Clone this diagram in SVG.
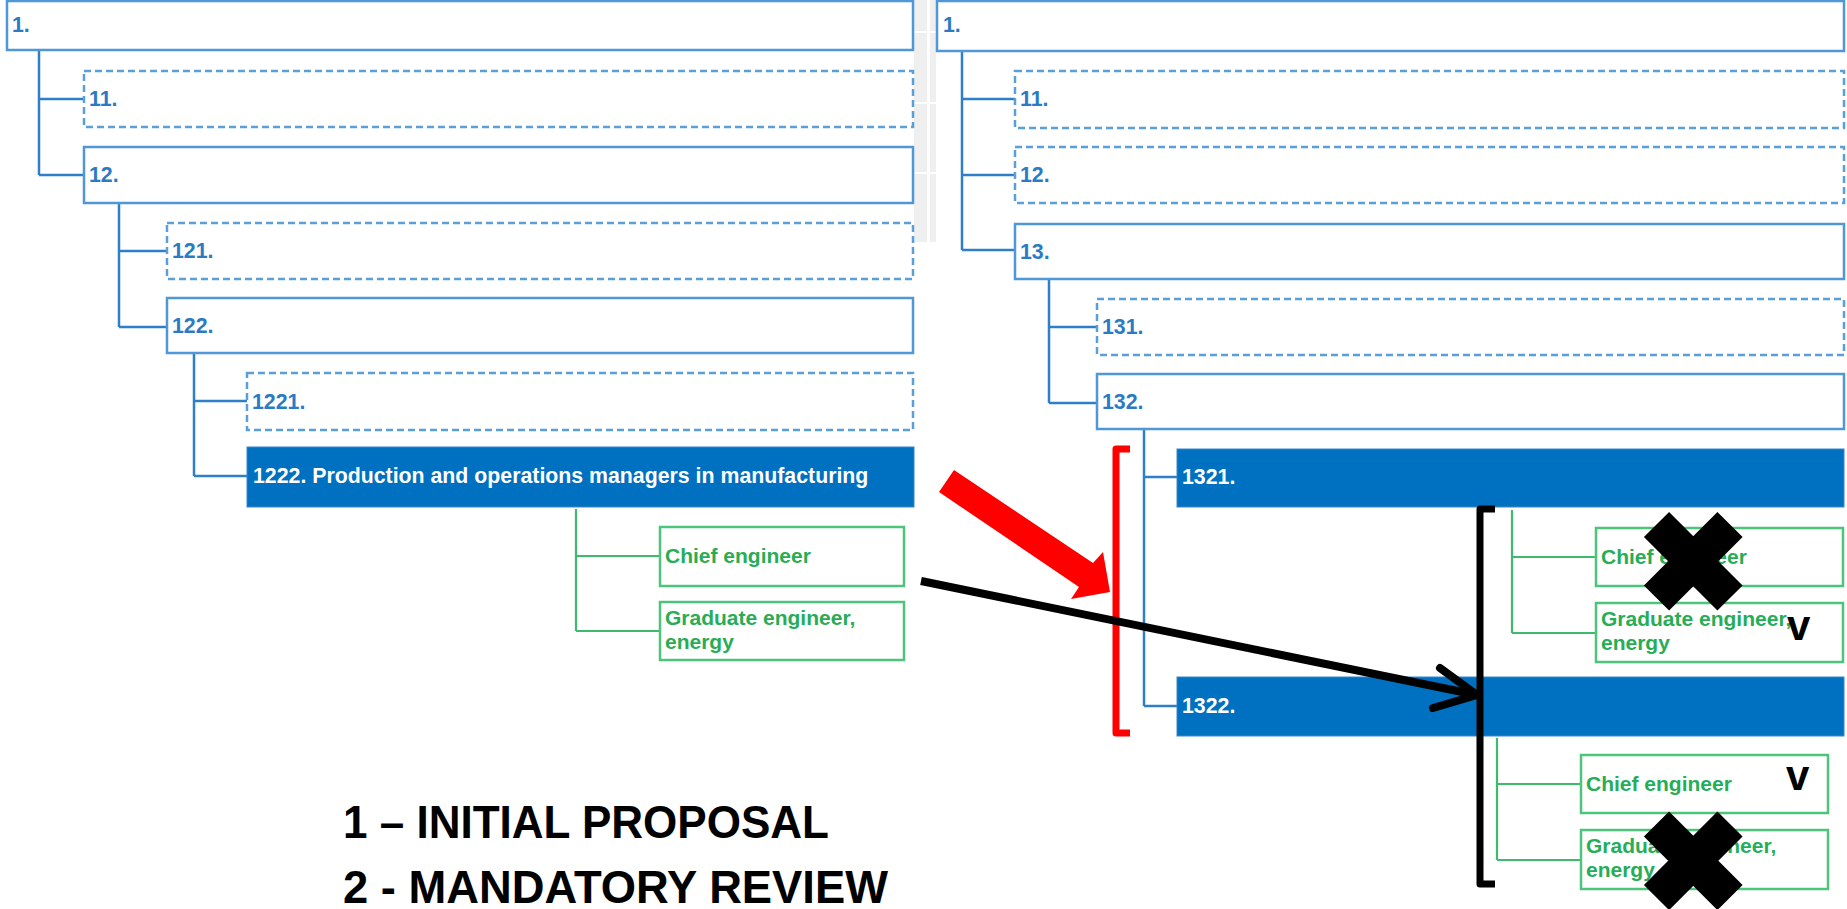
<svg xmlns="http://www.w3.org/2000/svg" width="1847" height="909" viewBox="0 0 1847 909">
<style>
.bx{fill:#fff;stroke:#4f97d6;stroke-width:2.5}
.dx{fill:#fff;stroke:#5a9fd8;stroke-width:2.5;stroke-dasharray:7 4}
.fx{fill:#0070c0;stroke:#3b86cc;stroke-width:1}
.gx{fill:#fff;stroke:#4cc47a;stroke-width:2.5}
.bl{font-family:"Liberation Sans",Arial,sans-serif;font-weight:bold;font-size:21.3px;fill:#2a7ac4}
.wl{font-family:"Liberation Sans",Arial,sans-serif;font-weight:bold;font-size:21.3px;fill:#ffffff}
.gl{font-family:"Liberation Sans",Arial,sans-serif;font-weight:bold;font-size:21px;fill:#27ad56}
.cb{fill:none;stroke:#2f7fc8;stroke-width:2.5}
.cg{fill:none;stroke:#3dbb6c;stroke-width:2.2}
.big{font-family:"Liberation Sans",Arial,sans-serif;font-weight:bold;font-size:46px;fill:#000}
.vv{font-family:"Liberation Sans",Arial,sans-serif;font-weight:bold;font-size:42px;fill:#000}
</style>
<rect width="1847" height="909" fill="#fff"/>
<g id="bg-artifact">
<rect x="914" y="0" width="22" height="242" fill="#efefef"/>
<rect x="927" y="0" width="3" height="242" fill="#fff"/>
<rect x="914" y="31" width="22" height="2" fill="#fff"/>
<rect x="914" y="102" width="22" height="2" fill="#fff"/>
<rect x="914" y="172" width="22" height="2" fill="#fff"/>
</g>
<g id="connectors">
<path class="cb" d="M39,50 V175 M39,99 H84 M39,175 H84"/>
<path class="cb" d="M119,203 V327 M119,251 H167 M119,327 H167"/>
<path class="cb" d="M194,353 V476 M194,401 H247 M194,476 H247"/>
<path class="cg" d="M576,509 V631 M576,556 H660 M576,631 H660"/>
<path class="cb" d="M962,51 V250 M962,99 H1015 M962,175 H1015 M962,250 H1015"/>
<path class="cb" d="M1049,279 V403 M1049,327 H1097 M1049,403 H1097"/>
<path class="cb" d="M1144,429 V706 M1144,477 H1177 M1144,706 H1177"/>
<path class="cg" d="M1512,510 V633 M1512,557 H1596 M1512,633 H1596"/>
<path class="cg" d="M1497,738 V860 M1497,784 H1581 M1497,860 H1581"/>
</g>
<g id="L1"><rect class="bx" x="7" y="1" width="906" height="49"/><text class="bl" x="12" y="32">1.</text></g>
<g id="L11"><rect class="dx" x="84" y="71" width="829" height="56"/><text class="bl" x="89" y="106">11.</text></g>
<g id="L12"><rect class="bx" x="84" y="147" width="829" height="56"/><text class="bl" x="89" y="182">12.</text></g>
<g id="L121"><rect class="dx" x="167" y="223" width="746" height="56"/><text class="bl" x="172" y="258">121.</text></g>
<g id="L122"><rect class="bx" x="167" y="298" width="746" height="55"/><text class="bl" x="172" y="333">122.</text></g>
<g id="L1221"><rect class="dx" x="247" y="373" width="666" height="57"/><text class="bl" x="252" y="409">1221.</text></g>
<g id="L1222"><rect class="fx" x="247" y="447" width="667" height="60"/><text class="wl" x="253" y="483">1222. Production and operations managers in manufacturing</text></g>
<g id="Lchief"><rect class="gx" x="660" y="527" width="244" height="59"/><text class="gl" x="665" y="563">Chief engineer</text></g>
<g id="Lgrad"><rect class="gx" x="660" y="602" width="244" height="58"/><text class="gl" x="665" y="625">Graduate engineer,</text><text class="gl" x="665" y="649">energy</text></g>
<g id="R1"><rect class="bx" x="937" y="1" width="907" height="50"/><text class="bl" x="943" y="32">1.</text></g>
<g id="R11"><rect class="dx" x="1015" y="71" width="829" height="57"/><text class="bl" x="1020" y="106">11.</text></g>
<g id="R12"><rect class="dx" x="1015" y="147" width="829" height="56"/><text class="bl" x="1020" y="182">12.</text></g>
<g id="R13"><rect class="bx" x="1015" y="224" width="829" height="55"/><text class="bl" x="1020" y="259">13.</text></g>
<g id="R131"><rect class="dx" x="1097" y="299" width="747" height="56"/><text class="bl" x="1102" y="334">131.</text></g>
<g id="R132"><rect class="bx" x="1097" y="374" width="747" height="55"/><text class="bl" x="1102" y="409">132.</text></g>
<g id="R1321"><rect class="fx" x="1177" y="449" width="667" height="58"/><text class="wl" x="1182" y="484">1321.</text></g>
<g id="R1322"><rect class="fx" x="1177" y="677" width="667" height="59"/><text class="wl" x="1182" y="713">1322.</text></g>
<g id="Rchief1"><rect class="gx" x="1596" y="528" width="247" height="58"/><text class="gl" x="1601" y="564">Chief engineer</text></g>
<g id="Rgrad1"><rect class="gx" x="1596" y="603" width="247" height="59"/><text class="gl" x="1601" y="626">Graduate engineer,</text><text class="gl" x="1601" y="650">energy</text></g>
<g id="Rchief2"><rect class="gx" x="1581" y="755" width="247" height="58"/><text class="gl" x="1586" y="791">Chief engineer</text></g>
<g id="Rgrad2"><rect class="gx" x="1581" y="830" width="247" height="59"/><text class="gl" x="1586" y="853">Graduate engineer,</text><text class="gl" x="1586" y="877">energy</text></g>
<g id="annotations">
<path d="M1130,449 H1116 V733 H1130" fill="none" stroke="#ff0000" stroke-width="7" stroke-linejoin="round"/>
<polygon points="954,470 1093,563 1103,552 1110,592 1071,599 1079,587 939,492" fill="#ff0000"/>
<path d="M1495,509 H1480 V884 H1495" fill="none" stroke="#000" stroke-width="7" stroke-linejoin="round"/>
<path d="M921,581 L1477,695" fill="none" stroke="#000" stroke-width="8"/>
<path d="M1440,668 L1477,695 L1433,708" fill="none" stroke="#000" stroke-width="8" stroke-linecap="round" stroke-linejoin="round"/>
<path d="M1656.5,524.5 L1730,598 M1730,524.5 L1656.5,598" stroke="#000" stroke-width="35.6"/>
<path d="M1656.5,824 L1730,897.5 M1730,824 L1656.5,897.5" stroke="#000" stroke-width="35.6"/>
<text class="vv" x="1787" y="640">v</text>
<text class="vv" x="1786" y="790">v</text>
<text class="big" x="343" y="838" textLength="486" lengthAdjust="spacingAndGlyphs">1 – INITIAL PROPOSAL</text>
<text class="big" x="343" y="903" textLength="545" lengthAdjust="spacingAndGlyphs">2 - MANDATORY REVIEW</text>
</g>
</svg>
